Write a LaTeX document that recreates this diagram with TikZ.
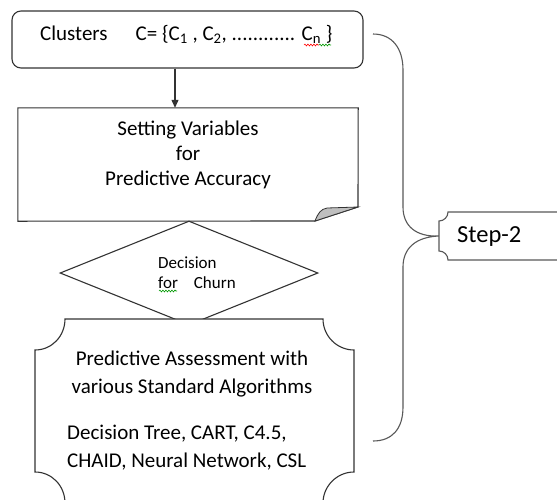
\documentclass[tikz,border=0pt]{standalone}
\usepackage{fontspec}
\setmainfont{Carlito}
\usetikzlibrary{arrows.meta,shapes.geometric,decorations.pathmorphing}
\begin{document}
\begin{tikzpicture}[x=1pt,y=-1pt,
  edge/.style={draw=black!80,line width=1.1pt},
  txt/.style={font=\fontsize{21}{25}\selectfont,text=black,inner sep=0pt},
  widetxt/.style={font=\fontsize{21}{28.5}\selectfont,text=black,inner sep=0pt},
  smalltxt/.style={font=\fontsize{17}{20}\selectfont,text=black,inner sep=0pt},
  bigtxt/.style={font=\fontsize{24.5}{30}\selectfont,text=black,inner sep=0pt},
  squig/.style={decorate,decoration={snake,amplitude=0.9pt,segment length=3pt},line width=0.6pt},
]
\useasboundingbox[fill=white] (0,0) rectangle (557,499);

% cluster box
\node[edge,rounded corners=9pt,minimum width=351pt,minimum height=57pt,inner sep=0pt] (cl) at (187.5,39.5) {};
\node[txt,anchor=base west] (clt) at (40,40) {Clusters\hspace{28pt}C= \{C\textsubscript{1} , C\textsubscript{2}, ............ C\textsubscript{n} \}};
\draw[squig,red] (304,45) -- (319,45);
\draw[squig,green!60!black] (319,45) -- (331,45);

% setting-variables box with folded corner
\node[minimum width=340pt,minimum height=113pt,inner sep=0pt] (sv) at (188,164.5) {};
\draw[edge,fill=white] (sv.north west) -- (sv.north east) -- (358,207) -- (315,221) -- (sv.south west) -- cycle;
\draw[edge,fill=black!25,line width=0.8pt] (315,221) .. controls (318,213) and (321,209) .. (327,208) -- (358,207) -- cycle;
\node[txt,align=center] (svt) at (188,155) {Setting Variables\\for\\Predictive Accuracy};

\coordinate (ax) at (175,0);
\draw[edge,-{Triangle[length=8pt,width=7pt]}] (cl.south -| ax) -- (sv.north -| ax);

% decision diamond
\node[edge,diamond,fill=white,minimum width=258pt,minimum height=104pt,inner sep=0pt] (dec) at (189,273) {};
\node[smalltxt,align=left,anchor=west] (dect) at (158,273) {Decision\\for\hspace{16pt}Churn};
\draw[squig,green!60!black] (159,291) -- (177,291);

% assessment plaque
\node[minimum width=319pt,minimum height=184pt,inner sep=0pt] (pa) at (194.5,411) {};
\draw[edge,fill=white] (65,319) -- (323,319)
  .. controls (323,336) and (337,350) .. (354,350) -- (354,472)
  .. controls (337,472) and (323,486) .. (323,503) -- (65,503)
  .. controls (65,486) and (52,472) .. (35,472) -- (35,350)
  .. controls (52,350) and (65,336) .. (65,319) -- cycle;
\node[widetxt,align=center] (pat) at (192,374) {Predictive Assessment with\\various Standard Algorithms};
\node[widetxt,align=left,anchor=west] (pal) at (67,447.5) {Decision Tree, CART, C4.5,\\CHAID, Neural Network, CSL};

% step label with brace
\node[minimum width=120pt,minimum height=48pt,inner sep=0pt] (st) at (499,236) {};
\draw[edge,draw=black!65] (570,212) -- (448,212)
  .. controls (448,217) and (444,221) .. (439,221) -- (439,251)
  .. controls (444,251) and (448,255) .. (448,260) -- (570,260);
\node[bigtxt,anchor=west] (stt) at (457,237) {Step-2};
\coordinate (btop) at (373,34);
\coordinate (bbot) at (373,441);
\coordinate (btip) at (st.west);
\draw[draw=black!65,line width=1.1pt] (btop) .. controls (392,34) and (403,48) .. (403,70)
  -- (403,207) .. controls (403,226) and (416,237) .. (btip)
  .. controls (416,237) and (403,248) .. (403,267)
  -- (403,407) .. controls (403,429) and (392,441) .. (bbot);
\end{tikzpicture}
\end{document}
